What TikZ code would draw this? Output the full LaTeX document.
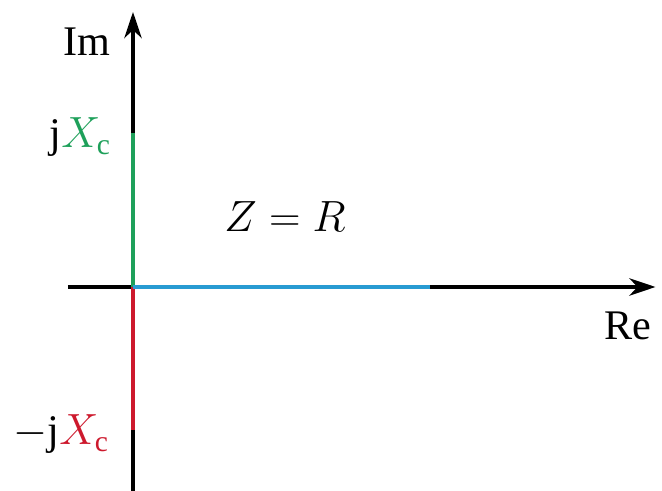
\documentclass[tikz,border=0pt]{standalone}
\usepackage{fontspec}
\setmainfont{Liberation Serif}
\usetikzlibrary{arrows.meta}
\definecolor{imgreen}{RGB}{30,160,90}
\definecolor{imred}{RGB}{205,25,45}
\definecolor{reblue}{RGB}{40,155,210}
\tikzset{
  axis/.style={line width=2pt,-{Stealth[length=15pt,width=10pt]}},
  phasor/.style={line width=2.8pt},
  lbl/.style={font=\fontsize{24}{28}\selectfont}
}
\begin{document}
\begin{tikzpicture}
            \useasboundingbox (-2.66,-4.08) rectangle (10.58,5.74);
            % Points on the axes
            \coordinate (O) at (0,0);
            \coordinate (xl) at (-1.3,0);
            \coordinate (xr) at (10.45,0);
            \coordinate (yb) at (0,-4.08);
            \coordinate (yt) at (0,5.5);
            \coordinate (XCp) at (0,3.08);
            \coordinate (XCm) at (0,-2.86);
            \coordinate (R) at (5.94,0);

            % Axes
            \draw[axis] (xl) -- (xr);
            \draw[axis] (yb) -- (yt);

            % Impedance parts
            \draw[phasor,imgreen] (O) -- (XCp);
            \draw[phasor,imred] (O) -- (XCm);
            \draw[phasor,reblue] (O) -- (R);

            % Labels
            \node[lbl] (im) at (-0.92,4.9) {Im};
            \node[lbl] (re) at (9.9,-0.78) {Re};
            \node[lbl,anchor=east] (jxc) at (-0.32,3.0) {j$\color{imgreen}X_\mathrm{c}$};
            \node[lbl,anchor=east] (mjxc) at (-0.36,-2.95) {$-$j$\color{imred}X_\mathrm{c}$};
            \node[lbl] (z) at (3.04,1.4) {$Z=R$};
\end{tikzpicture}
\end{document}
